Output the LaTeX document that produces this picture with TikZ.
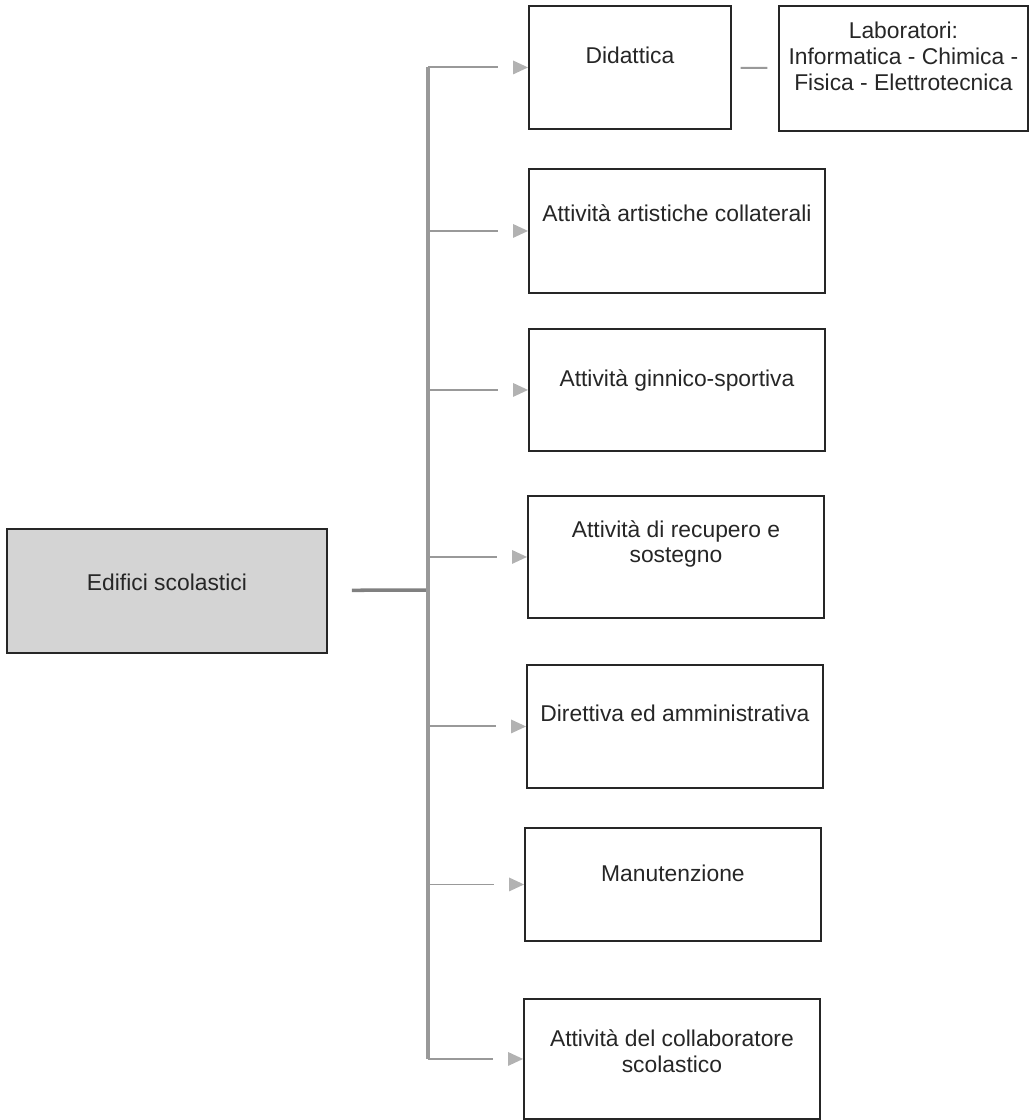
\documentclass[tikz,border=0pt]{standalone}
\usepackage{fontspec}
\setmainfont{Liberation Sans}
\usetikzlibrary{positioning,calc}

\begin{document}
\begin{tikzpicture}[x=0.02cm, y=-0.02cm,
  cell/.style={draw=black!85, line width=1.1pt, minimum width=5.92cm, minimum height=2.46cm, inner sep=0pt},
  txt/.style={font=\fontsize{13}{14.6}\selectfont, text=black!85, align=center, inner sep=0pt},
  trunk/.style={draw=black!40, line width=2pt},
  branch/.style={draw=black!40, line width=1.1pt},
  tip/.style={fill=black!30}]

\useasboundingbox (0,0) rectangle (1029,1120);

\coordinate(O1) at (6,528);
\node[below right=0cm of O1, cell, fill=black!17, minimum width=6.4cm, minimum height=2.48cm](root) {};
\node[txt] (roottxt) at ($(root.center)+(0,-9)$) {Edifici scolastici};

\coordinate(O1) at (528,5);
\node[below right=0cm of O1, cell, minimum width=4.04cm](did) {};
\node[txt] (didtxt) at ($(did.center)+(0,-12)$) {Didattica};

\coordinate(O1) at (778,5);
\node[below right=0cm of O1, cell, minimum width=4.98cm, minimum height=2.5cm](lab) {};
\node[txt] (labtxt) at ($(lab.center)+(0,-12)$) {Laboratori:\\Informatica - Chimica -\\Fisica - Elettrotecnica};

\coordinate(O1) at (528,168);
\node[below right=0cm of O1, cell, minimum height=2.48cm](art) {};
\node[txt] (arttxt) at ($(art.center)+(0,-18)$) {Attività artistiche collaterali};

\coordinate(O1) at (528,328);
\node[below right=0cm of O1, cell, minimum height=2.44cm](gin) {};
\node[txt] (gintxt) at ($(gin.center)+(0,-10)$) {Attività ginnico-sportiva};

\coordinate(O1) at (527,495);
\node[below right=0cm of O1, cell, minimum height=2.44cm](rec) {};
\node[txt] (rectxt) at ($(rec.center)+(0,-13)$) {Attività di recupero e\\sostegno};

\coordinate(O1) at (526,664);
\node[below right=0cm of O1, cell](dir) {};
\node[txt] (dirtxt) at ($(dir.center)+(0,-13)$) {Direttiva ed amministrativa};

\coordinate(O1) at (524,827);
\node[below right=0cm of O1, cell, minimum height=2.26cm](man) {};
\node[txt] (mantxt) at ($(man.center)+(0,-11)$) {Manutenzione};

\coordinate(O1) at (523,998);
\node[below right=0cm of O1, cell, minimum height=2.4cm](col) {};
\node[txt] (coltxt) at ($(col.center)+(0,-8)$) {Attività del collaboratore\\scolastico};

% tree lines
\coordinate (spine) at (428,590);
\draw[trunk, draw=black!50, shorten <=13.6pt] (root) -- (spine);
\draw[trunk] (spine |- did.west) -- (spine |- col.west);
\foreach \b in {did,art,gin,rec,dir,man,col}{
  \draw[branch] (spine |- \b.west) -- ($(\b.west)+(-30,0)$);
  \fill[tip] (\b.west) -- ++(-15,-7) -- ++(0,14) -- cycle;
}
\draw[branch, shorten <=5pt, shorten >=6pt] (did) -- (lab);
\end{tikzpicture}
\end{document}
